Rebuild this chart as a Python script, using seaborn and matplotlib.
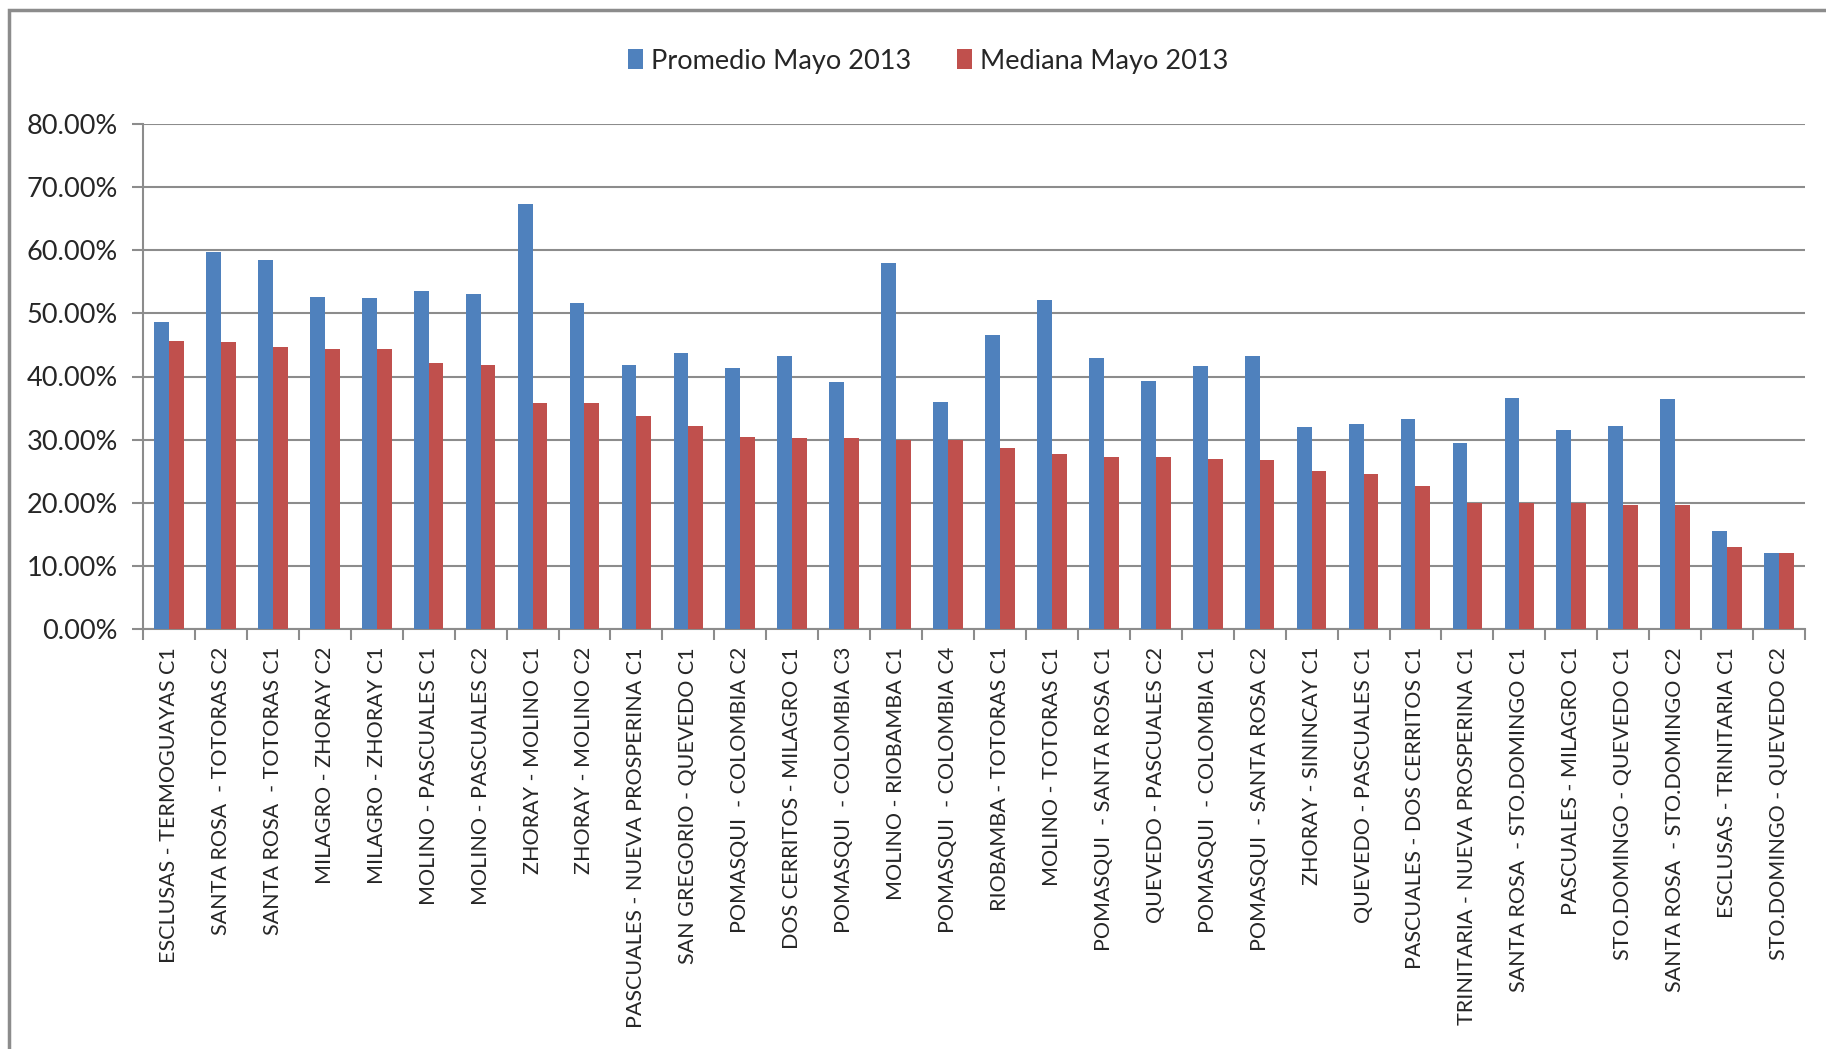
import matplotlib
matplotlib.use("Agg")
import matplotlib.pyplot as plt
import seaborn as sns
import pandas as pd
import numpy as np
from matplotlib.ticker import FuncFormatter, FixedLocator
from matplotlib.patches import Rectangle

categories = [
    "ESCLUSAS - TERMOGUAYAS C1",
    "SANTA ROSA  - TOTORAS C2",
    "SANTA ROSA  - TOTORAS C1",
    "MILAGRO - ZHORAY C2",
    "MILAGRO - ZHORAY C1",
    "MOLINO - PASCUALES C1",
    "MOLINO - PASCUALES C2",
    "ZHORAY - MOLINO C1",
    "ZHORAY - MOLINO C2",
    "PASCUALES - NUEVA PROSPERINA C1",
    "SAN GREGORIO - QUEVEDO C1",
    "POMASQUI  - COLOMBIA C2",
    "DOS CERRITOS - MILAGRO C1",
    "POMASQUI  - COLOMBIA C3",
    "MOLINO - RIOBAMBA C1",
    "POMASQUI  - COLOMBIA C4",
    "RIOBAMBA - TOTORAS C1",
    "MOLINO - TOTORAS C1",
    "POMASQUI  - SANTA ROSA C1",
    "QUEVEDO - PASCUALES C2",
    "POMASQUI  - COLOMBIA C1",
    "POMASQUI  - SANTA ROSA C2",
    "ZHORAY - SININCAY C1",
    "QUEVEDO - PASCUALES C1",
    "PASCUALES - DOS CERRITOS C1",
    "TRINITARIA - NUEVA PROSPERINA C1",
    "SANTA ROSA  - STO.DOMINGO C1",
    "PASCUALES - MILAGRO C1",
    "STO.DOMINGO - QUEVEDO C1",
    "SANTA ROSA  - STO.DOMINGO C2",
    "ESCLUSAS - TRINITARIA C1",
    "STO.DOMINGO - QUEVEDO C2",
]

promedio = [48.6, 59.7, 58.5, 52.6, 52.4, 53.6, 53.1, 67.3, 51.6, 41.8,
            43.8, 41.3, 43.3, 39.1, 58.0, 35.9, 46.5, 52.1, 43.0, 39.3,
            41.6, 43.3, 32.0, 32.5, 33.2, 29.5, 36.6, 31.5, 32.2, 36.4,
            15.5, 12.0]

mediana = [45.7, 45.5, 44.7, 44.3, 44.3, 42.2, 41.8, 35.8, 35.8, 33.7,
           32.2, 30.4, 30.3, 30.3, 29.9, 29.9, 28.6, 27.8, 27.3, 27.3,
           27.0, 26.8, 25.1, 24.6, 22.6, 19.9, 19.9, 19.9, 19.7, 19.7,
           13.0, 12.0]

series_names = ["Promedio Mayo 2013", "Mediana Mayo 2013"]
colors = ["#4F81BD", "#C0504D"]
yticks = [0, 10, 20, 30, 40, 50, 60, 70, 80]

df = pd.DataFrame({
    "cat": categories * 2,
    "val": promedio + mediana,
    "serie": [series_names[0]] * len(categories) + [series_names[1]] * len(categories),
})

sns.set_style("white")
plt.rcParams["font.family"] = ["Lato", "DejaVu Sans"]

fig = plt.figure(figsize=(18.26, 10.49), dpi=100)
ax = fig.add_axes([143 / 1826, 1 - 629 / 1049, (1805 - 143) / 1826, (629 - 124) / 1049])

sns.barplot(data=df, x="cat", y="val", hue="serie", order=categories,
            hue_order=series_names, palette=colors, width=0.57, gap=0,
            saturation=1, ax=ax, edgecolor="none", legend=True, zorder=3)

ax.set_ylim(0, 80)
ax.set_xlim(-0.5, len(categories) - 0.5)
ax.yaxis.set_major_locator(FixedLocator(yticks))
ax.yaxis.set_major_formatter(FuncFormatter(lambda v, p: f"{v:.2f}%"))
ax.grid(axis="y", color="#8C8C8C", linewidth=1.5, zorder=0)
ax.grid(axis="x", visible=False)
ax.set_axisbelow(True)

for s in ["top", "right"]:
    ax.spines[s].set_visible(False)
for s in ["left", "bottom"]:
    ax.spines[s].set_color("#8C8C8C")
    ax.spines[s].set_linewidth(1.5)

ax.tick_params(axis="y", which="major", length=8, width=1.5, color="#8C8C8C",
               labelsize=19.5, pad=10, left=True)
ax.set_xticks(np.arange(len(categories)))
ax.set_xticklabels(categories, rotation=90, fontsize=15.5, va="top", ha="center")
ax.tick_params(axis="x", which="major", length=0, pad=13)
ax.set_xticks(np.arange(len(categories) + 1) - 0.5, minor=True)
ax.tick_params(axis="x", which="minor", length=8, width=1.5, color="#8C8C8C", bottom=True)
ax.set_xlabel("")
ax.set_ylabel("")

leg = ax.legend(loc="center", bbox_to_anchor=(928 / 1826, 1 - 61 / 1049),
                bbox_transform=fig.transFigure, ncol=2, frameon=False,
                fontsize=19.5, handlelength=0.55, handleheight=0.75,
                handletextpad=0.3, columnspacing=1.7)

fig.patches.append(Rectangle((9 / 1826, -0.1), 1.2, 1 - 10 / 1049 + 0.1,
                             transform=fig.transFigure, fill=False,
                             edgecolor="#8C8C8C", linewidth=2.5, zorder=10))

fig.savefig("out.png", dpi=100)
